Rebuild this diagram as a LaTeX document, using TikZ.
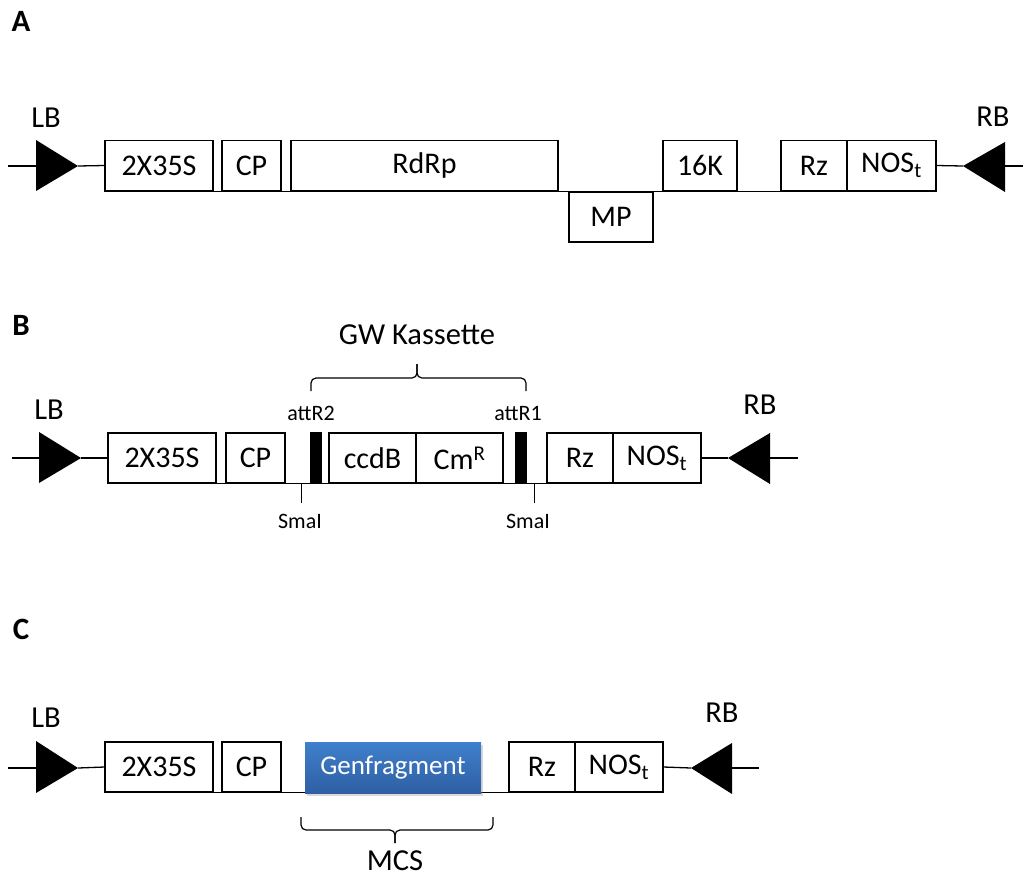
\documentclass[tikz,border=0pt]{standalone}
\usepackage{fontspec}
\setmainfont{Carlito}
\usetikzlibrary{shadows}
\definecolor{genTop}{HTML}{4080CC}
\definecolor{genBot}{HTML}{2E5FA3}
\tikzset{
  gene/.style={draw, line width=1.3pt, inner sep=0pt, minimum height=50pt, fill=white,
    font=\fontsize{30}{34}\selectfont},
  attbar/.style={fill=black, draw=black, line width=0.6pt, inner sep=0pt, minimum width=11pt, minimum height=51pt},
  backbone/.style={line width=1.3pt},
  border/.style={fill=black},
  lbl/.style={font=\fontsize{30.5}{33}\selectfont, inner sep=0pt},
  small/.style={font=\fontsize{22}{24}\selectfont, inner sep=0pt},
  panel/.style={font=\fontsize{31}{34}\selectfont\bfseries, inner sep=0pt},
  bracestyle/.style={line width=1.2pt, rounded corners=5pt},
  genfrag/.style={inner sep=0pt, minimum width=176pt, minimum height=51pt,
    top color=genTop, bottom color=genBot, text=white,
    font=\fontsize{27}{30}\selectfont,
    drop shadow={opacity=0.3, shadow xshift=1.5pt, shadow yshift=-3pt}},
}
\begin{document}
\begin{tikzpicture}[x=1pt, y=-1pt]
\useasboundingbox (0,0) rectangle (1025,879);

% ---------------- Panel A ----------------
\node[panel] (pA) at (21,21) {A};
\coordinate (aStart) at (8,166);
\coordinate (aLBbase) at (36,166);
\coordinate (aLBtip) at (78,166);
\coordinate (aRBtip) at (963,166);
\coordinate (aRBbase) at (1005,166);
\coordinate (aEnd) at (1023,166);
\fill[border] (36,140) -- (aLBtip) -- (36,191) -- cycle;
\fill[border] (1005,142) -- (aRBtip) -- (1005,192) -- cycle;
\node[lbl] (aLB) at (46,118) {LB};
\node[lbl] (aRB) at (993,117) {RB};

\node[gene, minimum width=108pt] (a35S) at (159,165.5) {2X35S};
\node[gene, minimum width=59pt] (aCP) at (251.5,165.5) {CP};
\node[gene, minimum width=267pt] (aRdRp) at (424.5,165.5) {RdRp};
\node[gene, minimum width=84pt] (aMP) at (611,217) {MP};
\node[gene, minimum width=74pt] (a16K) at (700,165.5) {16K};
\node[gene, minimum width=66pt] (aRz) at (814,165.5) {Rz};
\node[gene, minimum width=89pt] (aNOS) at (891.5,165.5) {NOS\textsubscript{t}};

\draw[backbone] (aStart) -- (aLBbase);
\draw[backbone] (aLBtip) -- (a35S.west);
\draw[backbone] (a35S.south west) -- (aNOS.south east);
\draw[backbone] (aNOS.east) -- (aRBtip);
\draw[backbone] (aRBbase) -- (aEnd);

% ---------------- Panel B ----------------
\node[panel] (pB) at (21,325) {B};
\coordinate (bStart) at (12,458);
\coordinate (bLBbase) at (39,458);
\coordinate (bLBtip) at (81,458);
\coordinate (bRBtip) at (728,458);
\coordinate (bRBbase) at (770,458);
\coordinate (bEnd) at (798,458);
\fill[border] (39,432) -- (bLBtip) -- (39,483) -- cycle;
\fill[border] (770,433) -- (bRBtip) -- (770,484) -- cycle;
\node[lbl] (bLB) at (49,410) {LB};
\node[lbl] (bRB) at (760,405) {RB};

\node[gene, minimum width=108pt] (b35S) at (162,458) {2X35S};
\node[gene, minimum width=59pt] (bCP) at (255.5,458) {CP};
\node[attbar] (bR2) at (315.5,457.5) {};
\node[gene, minimum width=87pt] (bccdB) at (372.5,458) {ccdB};
\node[gene, minimum width=87pt] (bCm) at (459.5,458) {Cm\textsuperscript{R}};
\node[attbar] (bR1) at (520.5,457.5) {};
\node[gene, minimum width=66pt] (bRz) at (580,458) {Rz};
\node[gene, minimum width=88pt] (bNOS) at (657,458) {NOS\textsubscript{t}};

\draw[backbone] (bStart) -- (bLBbase);
\draw[backbone] (bLBtip) -- (b35S.west);
\draw[backbone] (b35S.south west) -- (bNOS.south east);
\draw[backbone] (bNOS.east) -- (bRBtip);
\draw[backbone] (bRBbase) -- (bEnd);

\node[small] (bR2lbl) at (311,413) {attR2};
\node[small] (bR1lbl) at (518,413) {attR1};

\coordinate (bSma1top) at (301,483);
\coordinate (bSma1bot) at (301,503);
\coordinate (bSma2top) at (534,483);
\coordinate (bSma2bot) at (534,503);
\draw[line width=1pt] (bSma1top) -- (bSma1bot);
\draw[line width=1pt] (bSma2top) -- (bSma2bot);
\node[small] (bSma1) at (300,521) {SmaI};
\node[small] (bSma2) at (528,521) {SmaI};

\draw[bracestyle] (311,391) -- (311,378) -- (417,378) -- (417,364);
\draw[bracestyle] (526,391) -- (526,378) -- (417,378) -- (417,364);
\node[lbl] (bGW) at (417,335) {GW Kassette};

% ---------------- Panel C ----------------
\node[panel] (pC) at (21,629) {C};
\coordinate (cStart) at (8,768);
\coordinate (cLBbase) at (36,768);
\coordinate (cLBtip) at (78,768);
\coordinate (cRBtip) at (691,768);
\coordinate (cRBbase) at (732,768);
\coordinate (cEnd) at (759,768);
\fill[border] (36,741) -- (cLBtip) -- (36,793) -- cycle;
\fill[border] (732,743) -- (cRBtip) -- (732,794) -- cycle;
\node[lbl] (cLB) at (46,718) {LB};
\node[lbl] (cRB) at (722,713) {RB};

\node[gene, minimum width=108pt] (c35S) at (159,767) {2X35S};
\node[gene, minimum width=59pt] (cCP) at (251.5,767) {CP};
\node[gene, minimum width=66pt] (cRz) at (542,767) {Rz};
\node[gene, minimum width=88pt] (cNOS) at (619,767) {NOS\textsubscript{t}};

\draw[backbone] (cStart) -- (cLBbase);
\draw[backbone] (cLBtip) -- (c35S.west);
\draw[backbone] (c35S.south west) -- (cNOS.south east);
\draw[backbone] (cNOS.east) -- (cRBtip);
\draw[backbone] (cRBbase) -- (cEnd);

\node[genfrag] (cGen) at (393,767.5) {Genfragment};

\draw[bracestyle] (301,817) -- (301,830) -- (395,830) -- (395,843);
\draw[bracestyle] (493,817) -- (493,830) -- (395,830) -- (395,843);
\node[lbl] (cMCS) at (395,861) {MCS};
\end{tikzpicture}
\end{document}
